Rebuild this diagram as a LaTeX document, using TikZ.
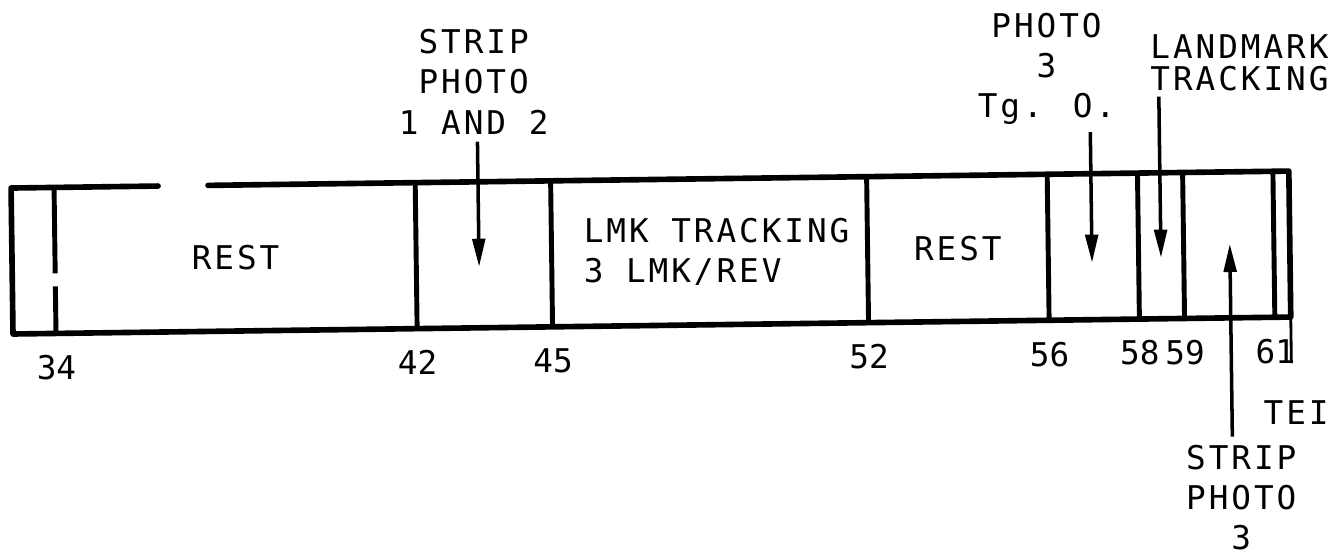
\documentclass[tikz,border=0pt]{standalone}
\usepackage{fontspec}
\usepackage{tikz}
\usetikzlibrary{positioning, arrows.meta, calc}
\newfontfamily\lblfont[LetterSpace=9]{DejaVu Sans Mono}
\newfontfamily\numfont{DejaVu Sans Mono}
\tikzset{
    boxline/.style={line width=1.6pt, line cap=round, line join=round},
    divider/.style={line width=1.4pt},
    ticker/.style={line width=0.8pt},
    pointer/.style={line width=1pt, -{Triangle[length=8pt, width=3.6pt]}},
    lbl/.style={font=\fontsize{9.3}{11.4}\selectfont\lblfont, align=center, inner sep=0pt},
    hour/.style={font=\fontsize{9.3}{11}\selectfont\numfont, inner sep=0pt}
}

\begin{document}
\begin{tikzpicture}
    \useasboundingbox (0,0) rectangle (13.42,5.55);
    \begin{scope}[rotate around={0.76:(0.13,2.21)}]
    % hour marks along the strip
    \foreach \t in {34,42,45,52,56,58,59,61} {
        \coordinate (b\t) at ({0.56+(\t-34)*0.4515},2.21);
        \coordinate (t\t) at ({0.56+(\t-34)*0.4515},3.67);
    }
    \coordinate (bl) at (0.13,2.21);
    \coordinate (tl) at (0.13,3.67);
    \coordinate (br) at (12.91,2.21);
    \coordinate (tr) at (12.91,3.67);
    \coordinate (tei) at (12.91,1.75);
    % outline, top edge broken
    \draw[boxline] (1.60,3.67) -- (tl) -- (bl) -- (br) -- (tr) -- (2.10,3.67);
    \draw[divider] (b34) -- ++(0,0.47) ++(0,0.13) -- (t34);
    \foreach \t in {42,45,52,56,58,59,61}
        \draw[divider] (b\t) -- (t\t);
    \foreach \t in {34,42,45,52,56,58,59,61}
        \node[hour] (h\t) at ($(b\t)+(0,-0.34)$) {\t};
    \draw[ticker] (br) -- (tei);
    \node[lbl] (teilbl) at (12.95,1.25) {TEI};

    % blocks
    \node[lbl] (rest1) at ($(b34)!0.5!(t42)$) {REST};
    \node[lbl, align=left, xshift=0.07cm] (lmk) at ($(b45)!0.5!(t52)$) {LMK TRACKING\\3 LMK/REV};
    \node[lbl] (rest2) at ($(b52)!0.5!(t56)$) {REST};

    % pointers
    \node[lbl] (sp12) at (4.77,4.67) {STRIP\\PHOTO\\1 AND 2};
    \coordinate (sp12tip) at (4.80,2.82);
    \draw[pointer] ([yshift=-0.07cm]sp12.south -| sp12tip) -- (sp12tip);

    \node[lbl] (ph3) at (10.50,4.72) {PHOTO\\3\\Tg. O.};
    \coordinate (ph3tip) at (10.93,2.78);
    \draw[pointer] ([yshift=-0.07cm]ph3.south -| ph3tip) -- (ph3tip);

    \node[lbl] (lmtr) at (12.43,4.76) {LANDMARK\\[-2.3pt]TRACKING};
    \coordinate (lmtrtip) at (11.62,2.82);
    \draw[pointer] ([yshift=-0.04cm]lmtr.south -| lmtrtip) -- (lmtrtip);

    \node[lbl] (sp3) at (12.39,0.41) {STRIP\\PHOTO\\3};
    \coordinate (sp3tip) at (12.31,2.95);
    \draw[pointer] ([yshift=0.08cm]sp3.north -| sp3tip) -- (sp3tip);
    \end{scope}
\end{tikzpicture}
\end{document}
